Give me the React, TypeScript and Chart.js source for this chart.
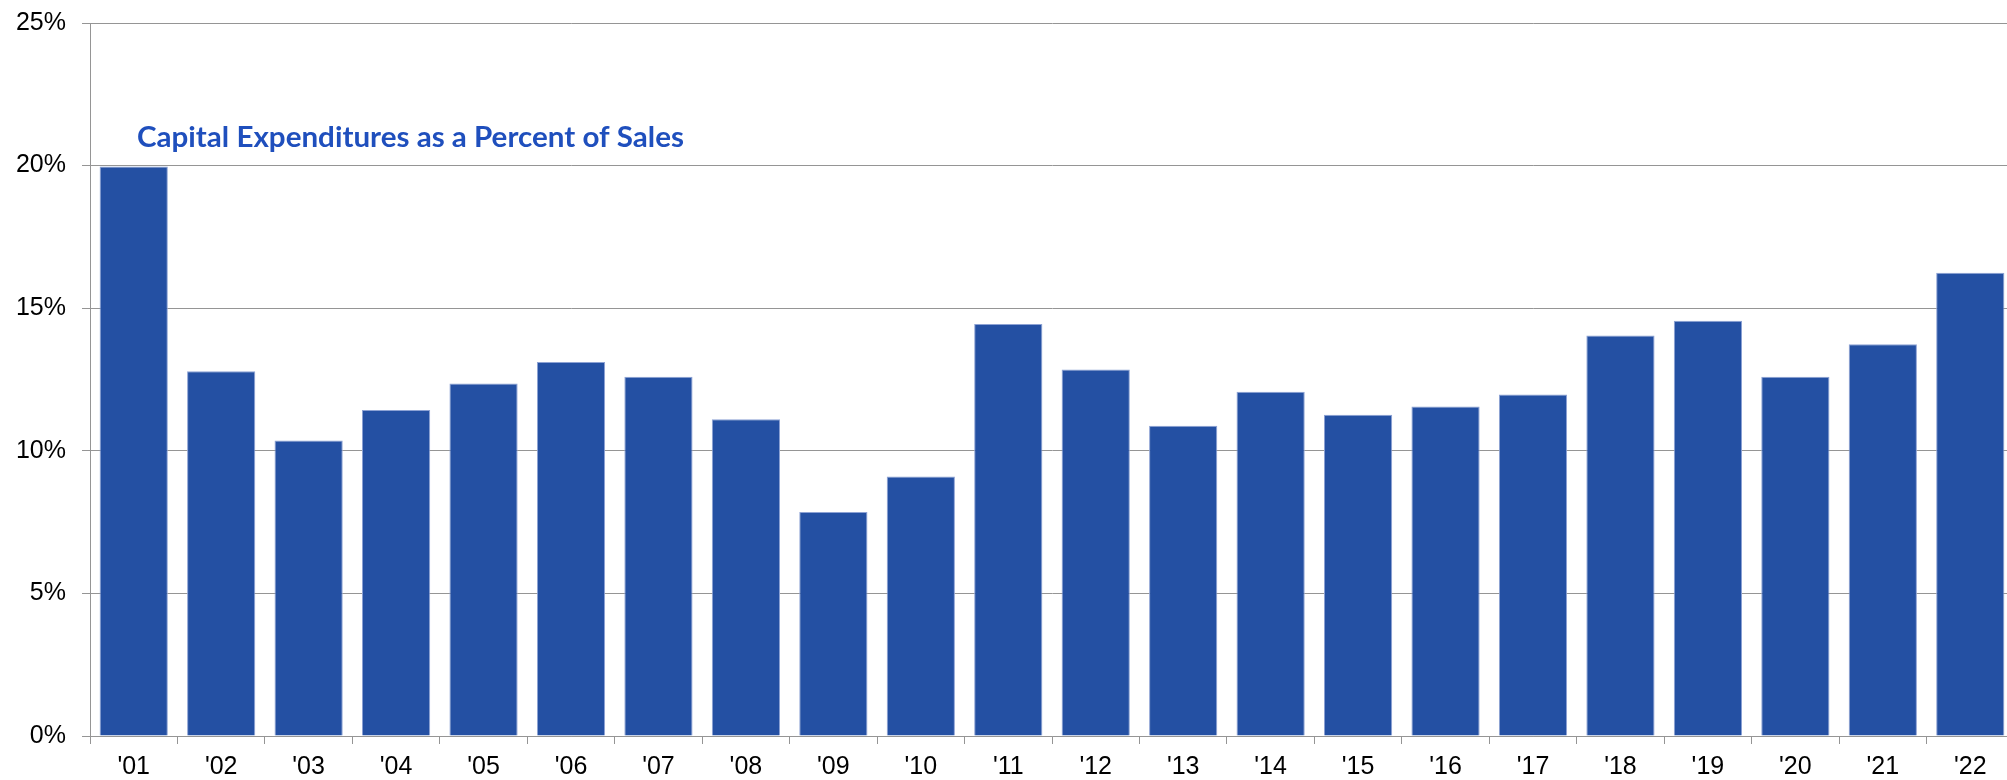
import React, { useEffect, useRef } from "react";
import { Chart, registerables } from "chart.js";

Chart.register(...registerables);

const categories = ["'01", "'02", "'03", "'04", "'05", "'06", "'07", "'08", "'09", "'10", "'11", "'12", "'13", "'14", "'15", "'16", "'17", "'18", "'19", "'20", "'21", "'22"];
const capexPctOfSales = [19.97, 12.79, 10.36, 11.43, 12.36, 13.11, 12.6, 11.11, 7.85, 9.1, 14.45, 12.85, 10.88, 12.07, 11.26, 11.55, 11.97, 14.04, 14.56, 12.6, 13.74, 16.24];
const yTicks = [0, 5, 10, 15, 20, 25];
const titleText = "Capital Expenditures as a Percent of Sales";

const GRID = "#959595";
const BAR = "#2450a3";
const TITLE_COLOR = "#1f4fbd";

const titlePlugin = {
  id: "insideTitle",
  afterDraw(chart: any) {
    const { ctx, chartArea } = chart;
    ctx.save();
    ctx.font = "bold 29px Lato";
    ctx.fillStyle = TITLE_COLOR;
    ctx.textBaseline = "alphabetic";
    ctx.textAlign = "left";
    const w = ctx.measureText(titleText).width;
    const target = 547;
    const x = chartArea.left + 47;
    const y = 147;
    ctx.translate(x, y);
    ctx.scale(target / w, 1);
    ctx.fillText(titleText, 0, 0);
    ctx.restore();
  },
};

export default function App() {
  const ref = useRef<HTMLCanvasElement | null>(null);
  useEffect(() => {
    if (!ref.current) return;
    const chart = new Chart(ref.current, {
      type: "bar",
      data: {
        labels: categories,
        datasets: [
          {
            data: capexPctOfSales,
            backgroundColor: BAR,
            borderColor: "#8da2d4",
            borderWidth: 1,
            barPercentage: 0.78,
            categoryPercentage: 1,
          },
        ],
      },
      options: {
        responsive: false,
        animation: false,
        devicePixelRatio: 1,
        layout: { padding: { top: 23, left: 0, right: 0, bottom: 0 } },
        plugins: { legend: { display: false }, tooltip: { enabled: false }, title: { display: false } },
        scales: {
          x: {
            offset: true,
            grid: { drawOnChartArea: false, drawTicks: true, tickLength: 8, color: GRID, offset: true, lineWidth: 1 },
            border: { color: GRID, width: 1 },
            ticks: { color: "#000", font: { family: "Liberation Sans", size: 25 }, padding: 8, maxRotation: 0, autoSkip: false },
            afterFit(scale: any) { scale.height = 44; scale.paddingLeft = 0; scale.paddingRight = 0; },
          },
          y: {
            min: 0,
            max: 25,
            afterBuildTicks(scale: any) { scale.ticks = yTicks.map((v) => ({ value: v })); },
            grid: { color: GRID, tickLength: 8, lineWidth: 1 },
            border: { color: GRID, width: 1 },
            ticks: { color: "#000", font: { family: "Liberation Sans", size: 25 }, padding: 16, callback: (v: any) => v + "%" },
            afterFit(scale: any) { scale.width = 90; scale.paddingTop = 0; scale.paddingBottom = 0; },
          },
        },
      },
      plugins: [titlePlugin],
    });
    return () => chart.destroy();
  }, []);
  return (
    <div style={{ position: "fixed", left: 0, top: 0, width: 2007, height: 780, overflow: "hidden", background: "#fff" }}>
      <canvas ref={ref} width={2014} height={780} style={{ width: 2014, height: 780, display: "block" }} />
    </div>
  );
}
